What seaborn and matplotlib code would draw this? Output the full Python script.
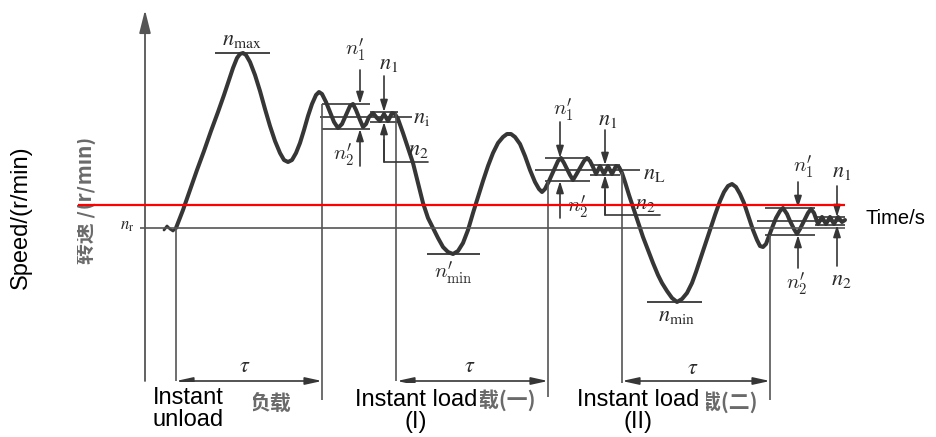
import matplotlib
matplotlib.use("Agg")
import matplotlib.pyplot as plt
import seaborn as sns
import pandas as pd
from matplotlib.patches import Rectangle

# ---------------------------------------------------------------
# Data (diagram units: time to the right,
# speed measured downward on the page, same scale as the picture)
# ---------------------------------------------------------------
curve_t = [176, 183, 190, 197, 204, 211, 218, 224, 229, 233, 237, 240, 243, 246, 250,
           255, 260, 265, 270, 275, 280, 284, 288, 292, 296, 300, 304, 308, 312, 316,
           319, 322, 326, 330, 334, 338, 342, 346, 350, 353, 356, 360, 363, 366, 369,
           373, 377, 380, 384, 388, 392, 395, 398, 403, 408, 413, 418, 423, 428, 433,
           438, 443, 448, 453, 458, 463, 468, 473, 478, 483, 488, 493, 498, 503, 507,
           511, 515, 520, 525, 530, 535, 539, 542, 545, 549, 554, 558, 561, 564, 567,
           570, 573, 576, 580, 584, 587, 590, 593, 596, 600, 604, 608, 612, 616, 619,
           622, 625, 629, 633, 638, 643, 648, 653, 658, 662, 667, 672, 677, 682, 687,
           692, 696, 700, 705, 710, 715, 720, 724, 728, 732, 736, 740, 744, 748, 753,
           757, 760, 763, 766, 769, 772, 776, 780, 783, 787, 790, 794, 797, 800, 804,
           808, 811, 814, 818, 822, 826, 830, 834, 838, 842, 845]
curve_n = [228, 210, 190, 170, 151, 131, 112, 95, 80, 68, 58, 54, 53, 55, 62,
           75, 91, 109, 126, 141, 153, 160, 162, 160, 153, 143, 130, 116, 104, 95,
           92, 94, 102, 112, 122, 128, 124, 115, 106, 104, 110, 120, 127, 124, 117,
           113, 118, 121, 114, 121, 113, 114, 119, 133, 148, 163, 183, 203, 218, 228,
           238, 247, 252, 254, 251, 243, 230, 213, 197, 181, 166, 153, 143, 137, 134,
           134, 137, 144, 156, 170, 182, 189, 192, 189, 181, 170, 161, 158, 163, 169,
           175, 180, 175, 168, 161, 158, 161, 167, 174, 166, 174, 166, 174, 166, 167,
           173, 182, 195, 207, 222, 237, 250, 263, 275, 283, 291, 298, 302, 299, 293,
           283, 272, 260, 245, 230, 215, 201, 192, 186, 184, 187, 194, 203, 215, 230,
           240, 246, 247, 244, 236, 228, 218, 211, 208, 214, 221, 229, 234, 229, 221,
           213, 209, 213, 224, 217, 224, 217, 224, 217, 222, 220]

wiggle_t = [164, 167, 170, 173, 176]
wiggle_n = [230, 226, 229, 231, 228]

n_rated = 228          # n_r level
n_red = 205            # red reference line
n_max_level = 53
n_min1_level = 254     # n'_min
n_min2_level = 302     # n_min

# three steady bands: start, split, end, outer top/bottom, inner top/bottom, mid
band_start = [322, 545, 765]
band_split = [370, 590, 815]
band_end = [398, 620, 845]
band_outer_top = [104, 158, 208]
band_outer_bot = [129, 181, 235]
band_inner_top = [112, 165, 217]
band_inner_bot = [122, 175, 225]
band_mid = [117, 170, 221]
band_mid_from = [320, 535, 757]
band_mid_to = [412, 640, 845]

# tau intervals
tau_from = [176, 397, 622]
tau_to = [322, 548, 770]

# ---------------------------------------------------------------
sns.set_theme(style="white")
plt.rcParams["font.family"] = ["Liberation Sans", "Noto Sans CJK SC", "DejaVu Sans"]
plt.rcParams["mathtext.fontset"] = "stix"

ink = "#363636"
thin = "#555555"

fig = plt.figure(figsize=(9.36, 4.37), dpi=100)
ax = fig.add_axes([0, 0, 1, 1])
ax.set_xlim(0, 936)
ax.set_ylim(437, 0)
ax.axis("off")

# speed curve
sns.lineplot(x=curve_t, y=curve_n, ax=ax, color=ink, linewidth=2.9,
             sort=False, estimator=None)
sns.lineplot(x=wiggle_t, y=wiggle_n, ax=ax, color=ink, linewidth=2.0,
             sort=False, estimator=None)

# vertical axis with arrow
ax.annotate("", xy=(145, 10), xytext=(145, 381),
            arrowprops=dict(arrowstyle="-|>,head_length=1.4,head_width=0.35",
                            color=thin, lw=1.3, shrinkA=0, shrinkB=0,
                            mutation_scale=10))

# rated speed line and red line
ax.hlines(n_rated, 140, 845, color=thin, lw=1.2)
ax.hlines(n_red, 78, 845, color="#ff0000", lw=1.6, zorder=5)

# extreme levels
ax.hlines(n_max_level, 215, 270, color=ink, lw=1.3)
ax.hlines(n_min1_level, 427, 480, color=ink, lw=1.3)
ax.hlines(n_min2_level, 647, 702, color=ink, lw=1.3)

# bands
for i in range(3):
    ax.hlines([band_outer_top[i], band_outer_bot[i]], band_start[i], band_split[i],
              color=ink, lw=1.2)
    ax.hlines([band_inner_top[i], band_inner_bot[i]], band_split[i], band_end[i],
              color=ink, lw=1.2)
    ax.hlines(band_mid[i], band_mid_from[i], band_mid_to[i], color=ink, lw=1.2)

# vertical guide lines
ax.vlines(176, 228, 381, color=thin, lw=1.2)
ax.vlines(322, 104, 400, color=thin, lw=1.2)
ax.vlines(396, 113, 381, color=thin, lw=1.2)
ax.vlines(548, 181, 397, color=thin, lw=1.2)
ax.vlines(622, 172, 383, color=thin, lw=1.2)
ax.vlines(770, 235, 400, color=thin, lw=1.2)

# n2 brackets
ax.plot([384, 384, 428], [140, 162, 162], color=ink, lw=1.2)
ax.plot([605, 605, 660], [190, 215, 215], color=ink, lw=1.2)

small = dict(arrowstyle="-|>,head_length=0.7,head_width=0.22", color=ink,
             lw=1.2, shrinkA=0, shrinkB=0, mutation_scale=10)


def arrow(x, y0, y1):
    ax.annotate("", xy=(x, y1), xytext=(x, y0), arrowprops=small)


# band 1
arrow(360, 70, 104)
arrow(384, 76, 112)
arrow(360, 166, 129)
arrow(384, 162, 122)
# band 2
arrow(560, 122, 158)
arrow(605, 130, 165)
arrow(560, 218, 181)
arrow(605, 215, 175)
# band 3
arrow(798, 182, 208)
arrow(837, 186, 217)
arrow(798, 268, 235)
arrow(837, 266, 225)

# tau arrows
dbl = dict(arrowstyle="<|-|>,head_length=1.0,head_width=0.22", color=ink,
           lw=1.2, shrinkA=0, shrinkB=0, mutation_scale=10)
for a, b in zip(tau_from, tau_to):
    ax.annotate("", xy=(b, 381), xytext=(a, 381), arrowprops=dbl)

# symbol labels
lab = dict(color="#2a2a2a", fontsize=16, ha="center", va="center")
primed = dict(lab, math_fontfamily="cm", fontsize=15)
ax.text(242, 39, r"$n_{\max}$", **lab)
ax.text(127, 227, r"$n_{\mathrm{r}}$", **dict(lab, fontsize=12))
ax.text(453, 273, r"$n_{\min}^{\prime}$", **primed)
ax.text(677, 316, r"$n_{\min}$", **lab)
for (x, y) in [(355, 50), (563, 110), (803, 167)]:
    ax.text(x, y, r"$n_{1}^{\prime}$", **primed)
for (x, y) in [(344, 155), (578, 207), (797, 284)]:
    ax.text(x, y, r"$n_{2}^{\prime}$", **primed)
for (x, y, s) in [(389, 63, r"$n_1$"), (418, 149, r"$n_2$"),
                  (422, 117, r"$n_{\mathrm{i}}$"), (608, 120, r"$n_1$"),
                  (645, 204, r"$n_2$"), (654, 173, r"$n_{\mathrm{L}}$"),
                  (842, 172, r"$n_1$"), (841, 280, r"$n_2$")]:
    ax.text(x, y, s, **lab)
for x, y in [(245, 367), (470, 367), (693, 368)]:
    ax.text(x, y, r"$\tau$", **lab)

# leftovers of the original Chinese captions
grey = dict(color="#6a6a6a", fontsize=15, fontweight="bold", va="center",
            family=["Noto Sans CJK SC", "DejaVu Sans"])
ax.text(85, 200, "转速 /(r/min)", rotation=90, ha="center", **grey)
ax.text(270, 403, "负载", ha="center", **grey)
ax.text(507, 400, "载(一)", ha="center", **grey)
ax.text(729, 402, "载(二)", ha="center", **grey)

# white cover boxes for the English captions
for (x0, y0, w, h) in [(0, 0, 77, 437), (152, 382, 101, 55),
                       (352, 383, 128, 54), (575, 385, 131, 52)]:
    ax.add_patch(Rectangle((x0, y0), w, h, facecolor="white", edgecolor="none",
                           zorder=8))

txt = dict(color="black", zorder=10, fontsize=17)
ax.text(21, 217, "Speed/(r/min)", rotation=90, ha="center", va="center", **txt)
ax.text(865, 218, "Time/s", ha="left", va="center", **dict(txt, fontsize=14.5))
ax.text(153, 409, "Instant\nunload", ha="left", va="center", linespacing=1.05, **txt)
ax.text(416, 411, "Instant load\n(I)", ha="center", va="center",
        multialignment="center", linespacing=1.05, **txt)
ax.text(638, 411, "Instant load\n(II)", ha="center", va="center",
        multialignment="center", linespacing=1.05, **txt)

fig.savefig("out.png", dpi=100, facecolor="white")
